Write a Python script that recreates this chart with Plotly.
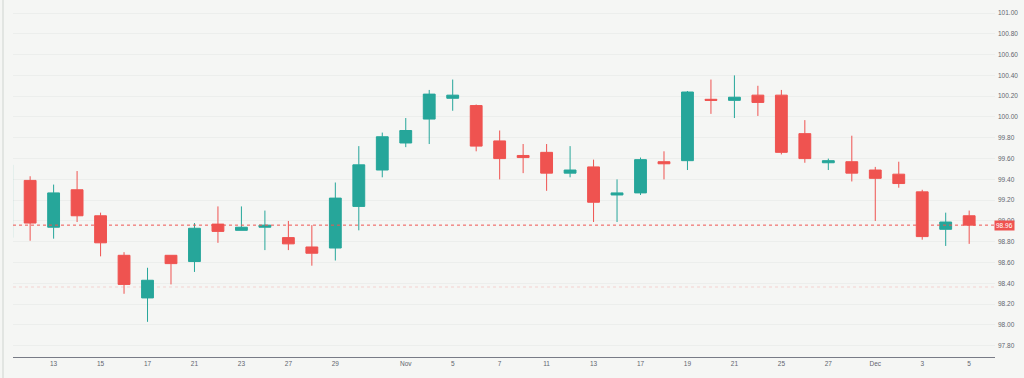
import plotly.graph_objects as go

dates = ["2024-10-09", "2024-10-10", "2024-10-13", "2024-10-14", "2024-10-15", "2024-10-16",
         "2024-10-17", "2024-10-20", "2024-10-21", "2024-10-22", "2024-10-23", "2024-10-24",
         "2024-10-27", "2024-10-28", "2024-10-29", "2024-10-30", "2024-10-31", "2024-11-03",
         "2024-11-04", "2024-11-05", "2024-11-06", "2024-11-07", "2024-11-10", "2024-11-11",
         "2024-11-12", "2024-11-13", "2024-11-14", "2024-11-17", "2024-11-18", "2024-11-19",
         "2024-11-20", "2024-11-21", "2024-11-24", "2024-11-25", "2024-11-26", "2024-11-27",
         "2024-11-28", "2024-12-01", "2024-12-02", "2024-12-03", "2024-12-04", "2024-12-05"]

opens = [98.84, 99.39, 98.94, 99.30, 99.05, 98.67, 98.26, 98.67, 98.61, 98.97, 98.91, 98.94,
         98.84, 98.75, 98.74, 99.14, 99.49, 99.75, 99.98, 100.18, 100.11, 99.77, 99.63, 99.66,
         99.46, 99.52, 99.25, 99.27, 99.57, 99.58, 100.17, 100.16, 100.21, 100.21, 99.84, 99.56,
         99.57, 99.49, 99.45, 99.28, 98.92, 99.05]
highs = [99.56, 99.43, 99.35, 99.48, 99.08, 98.70, 98.55, 98.67, 98.98, 99.14, 99.14, 99.10,
         99.00, 98.96, 99.37, 99.72, 99.85, 99.99, 100.26, 100.36, 100.12, 99.87, 99.74, 99.74,
         99.72, 99.59, 99.40, 99.61, 99.67, 100.25, 100.36, 100.40, 100.30, 100.26, 99.97, 99.60,
         99.82, 99.52, 99.57, 99.30, 99.08, 99.10]
lows = [98.80, 98.81, 98.83, 98.99, 98.66, 98.30, 98.03, 98.39, 98.51, 98.79, 98.91, 98.72,
        98.72, 98.57, 98.62, 98.91, 99.42, 99.71, 99.74, 100.06, 99.67, 99.40, 99.46, 99.29,
        99.42, 98.99, 98.99, 99.25, 99.40, 99.49, 100.03, 99.99, 100.01, 99.64, 99.56, 99.49,
        99.38, 99.00, 99.32, 98.82, 98.76, 98.78]
closes = [99.54, 98.98, 99.27, 99.05, 98.79, 98.39, 98.43, 98.59, 98.93, 98.90, 98.94, 98.96,
          98.78, 98.69, 99.22, 99.54, 99.81, 99.87, 100.22, 100.21, 99.72, 99.60, 99.61, 99.46,
          99.49, 99.18, 99.27, 99.59, 99.55, 100.24, 100.16, 100.19, 100.14, 99.66, 99.60, 99.58,
          99.46, 99.41, 99.36, 98.85, 98.99, 98.96]

tick_dates = ["2024-10-13", "2024-10-15", "2024-10-17", "2024-10-21", "2024-10-23", "2024-10-27",
              "2024-10-29", "2024-11-03", "2024-11-05", "2024-11-07", "2024-11-11", "2024-11-13",
              "2024-11-17", "2024-11-19", "2024-11-21", "2024-11-25", "2024-11-27", "2024-12-01",
              "2024-12-03", "2024-12-05"]
tick_labels = ["13", "15", "17", "21", "23", "27", "29", "Nov", "5", "7", "11", "13",
               "17", "19", "21", "25", "27", "Dec", "3", "5"]

y_ticks = [97.8, 98.0, 98.2, 98.4, 98.6, 98.8, 99.0, 99.2, 99.4, 99.6, 99.8,
           100.0, 100.2, 100.4, 100.6, 100.8, 101.0]
last_price = 98.96
marker_level = 98.365

UP = "#26a69a"
DOWN = "#ef5350"
BG = "#f5f6f4"
FONT = "Liberation Sans"

fig = go.Figure(go.Candlestick(
    x=dates, open=opens, high=highs, low=lows, close=closes,
    increasing=dict(line=dict(color=UP, width=1), fillcolor=UP),
    decreasing=dict(line=dict(color=DOWN, width=1), fillcolor=DOWN),
    whiskerwidth=0, showlegend=False, hoverinfo="skip",
))

fig.add_shape(type="line", xref="paper", x0=0, x1=1, yref="y", y0=marker_level, y1=marker_level,
              line=dict(color="rgba(239,83,80,0.22)", width=1, dash="dot"), layer="below")
fig.add_shape(type="line", xref="paper", x0=0, x1=1, yref="y", y0=last_price, y1=last_price,
              line=dict(color=DOWN, width=1, dash="dot"))
fig.add_shape(type="line", xref="paper", x0=-0.0102, x1=-0.0102, yref="paper", y0=-0.06, y1=1,
              line=dict(color="#e2e5e2", width=2))

fig.add_annotation(x=1, xref="paper", xanchor="left", y=last_price, yref="y", yanchor="middle",
                   text=f"{last_price:.2f}", showarrow=False, bgcolor=DOWN, borderpad=1,
                   font=dict(family=FONT, size=6.5, color="white"), xshift=-1)

fig.update_layout(
    width=1024, height=378,
    margin=dict(l=13, r=29, t=0, b=21),
    paper_bgcolor=BG, plot_bgcolor=BG,
    font=dict(family=FONT, size=6.5, color="#62656f"),
    boxgap=0.28,
    xaxis=dict(type="category", range=[0.27, 42.1], rangeslider=dict(visible=False),
               tickvals=tick_dates, ticktext=tick_labels, showgrid=False,
               showline=True, linecolor="#787b86", linewidth=1, ticks="", zeroline=False,
               tickfont=dict(size=6.5)),
    yaxis=dict(side="right", range=[97.692, 101.125], tickvals=y_ticks, tickformat=".2f",
               showgrid=True, gridcolor="#eceeec", gridwidth=1, zeroline=False, ticks="",
               showline=False, tickfont=dict(size=6.5), ticklabelstandoff=2),
)

fig.write_html("out.html", config={"displayModeBar": False},
               post_script="document.body.style.margin='0';document.body.style.padding='0';"
                           "document.body.style.background='%s';" % BG)
